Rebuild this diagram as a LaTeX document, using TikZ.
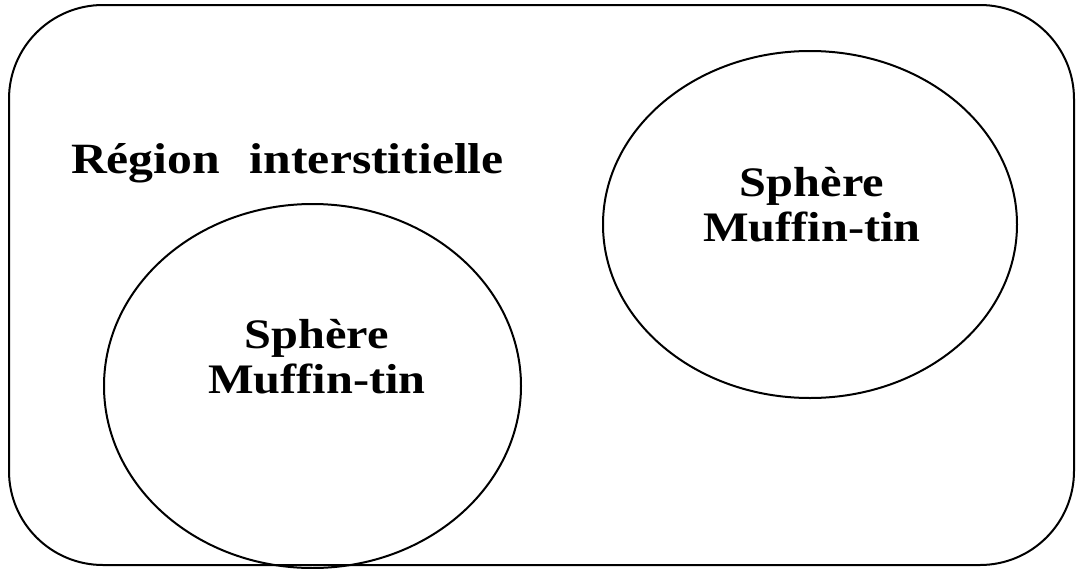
\documentclass[tikz,border=0pt]{standalone}
\usepackage{fontspec}
\usetikzlibrary{shapes.geometric}
\newfontfamily\lblfont{Liberation Serif}[FakeStretch=1.15]
\begin{document}
\begin{tikzpicture}[x=0.5pt,y=-0.5pt,
  line width=1pt,
  sphere/.style={draw, ellipse, inner sep=0pt},
  lbl/.style={font=\lblfont\bfseries\fontsize{21pt}{22.5pt}\selectfont, align=center, inner sep=0pt}]
\useasboundingbox (0,0) rectangle (1077,568);
\draw[rounded corners=47pt] (9,5) rectangle (1074,565);
\node[sphere, minimum width=208.5pt, minimum height=182pt] (s1) at (312.5,386) {};
\node[sphere, minimum width=207pt, minimum height=173.5pt] (s2) at (810,224.5) {};
\node[lbl, font=\lblfont\bfseries\fontsize{21.6pt}{23pt}\selectfont, anchor=base west] (reg) at (70,173) {Région\hspace{15pt}interstitielle};
\node[lbl] (t1) at (317,357) {Sphère\\Muffin-tin};
\node[lbl] (t2) at (812,205) {Sphère\\Muffin-tin};
\end{tikzpicture}
\end{document}
